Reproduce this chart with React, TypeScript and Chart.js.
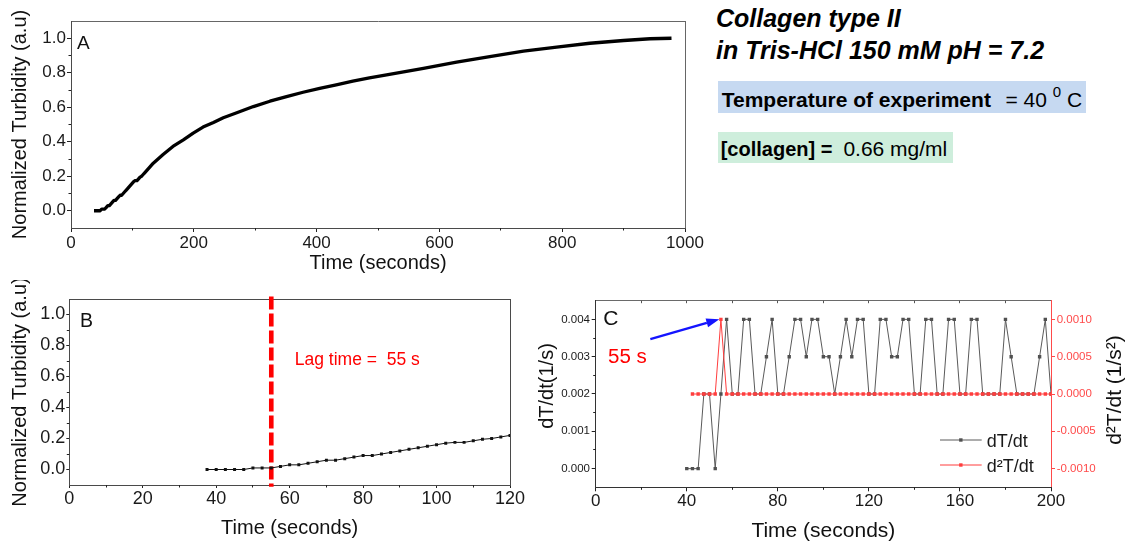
import React, { useEffect, useRef } from 'react';
import { Chart, registerables } from 'chart.js';

Chart.register(...registerables);

const FONT = "'Liberation Sans', Arial, Helvetica, sans-serif";

// ---------------- Panel A : full turbidity curve ----------------
const aTime = [37.5, 40, 42.5, 45, 47.5, 50, 52.5, 55, 57.5, 60, 62.5, 65, 67.5, 70, 72.5, 75, 77.5, 80, 82.5, 85, 87.5, 90, 92.5, 95, 97.5, 100, 102.5, 105, 107.5, 110, 112.5, 115, 117.5, 120, 134, 150, 166, 183, 199, 215, 232, 248, 270, 297, 324, 351, 378, 405, 432, 459, 486, 514, 544, 574, 628, 682, 737, 791, 845, 900, 943, 978];
const aTurbidity = [0, 0, 0, 0, 0, 0.01, 0.01, 0.01, 0.02, 0.03, 0.03, 0.04, 0.05, 0.06, 0.06, 0.07, 0.08, 0.09, 0.09, 0.10, 0.11, 0.12, 0.13, 0.14, 0.15, 0.16, 0.17, 0.175, 0.175, 0.185, 0.195, 0.20, 0.21, 0.22, 0.276, 0.326, 0.373, 0.411, 0.45, 0.485, 0.512, 0.539, 0.568, 0.604, 0.635, 0.662, 0.687, 0.71, 0.73, 0.751, 0.77, 0.788, 0.807, 0.826, 0.861, 0.894, 0.925, 0.948, 0.971, 0.987, 0.997, 1.0];
const aXTicks = [0, 200, 400, 600, 800, 1000];
const aXMinor = [100, 300, 500, 700, 900];
const turbTicks = [0, 0.2, 0.4, 0.6, 0.8, 1.0];
const turbMinor = [0.1, 0.3, 0.5, 0.7, 0.9];

// ---------------- Panel B : zoom on the lag phase ----------------
const bTime = [37.5, 40, 42.5, 45, 47.5, 50, 52.5, 55, 57.5, 60, 62.5, 65, 67.5, 70, 72.5, 75, 77.5, 80, 82.5, 85, 87.5, 90, 92.5, 95, 97.5, 100, 102.5, 105, 107.5, 110, 112.5, 115, 117.5, 120];
const bTurbidity = [0, 0, 0, 0, 0, 0.01, 0.01, 0.01, 0.02, 0.03, 0.03, 0.04, 0.05, 0.06, 0.06, 0.07, 0.08, 0.09, 0.09, 0.10, 0.11, 0.12, 0.13, 0.14, 0.15, 0.16, 0.17, 0.175, 0.175, 0.185, 0.195, 0.20, 0.21, 0.22];
const bXTicks = [0, 20, 40, 60, 80, 100, 120];
const bXMinor = [10, 30, 50, 70, 90, 110];
const lagTime = 55;

// ---------------- Panel C : derivatives ----------------
const cTime = [40, 42.5, 45, 47.5, 50, 52.5, 55, 57.5, 60, 62.5, 65, 67.5, 70, 72.5, 75, 77.5, 80, 82.5, 85, 87.5, 90, 92.5, 95, 97.5, 100, 102.5, 105, 107.5, 110, 112.5, 115, 117.5, 120, 122.5, 125, 127.5, 130, 132.5, 135, 137.5, 140, 142.5, 145, 147.5, 150, 152.5, 155, 157.5, 160, 162.5, 165, 167.5, 170, 172.5, 175, 177.5, 180, 182.5, 185, 187.5, 190, 192.5, 195, 197.5, 200];
const dTdt = [0, 0, 0, 0.002, 0.002, 0, 0.002, 0.004, 0.002, 0.002,
  0.004, 0.004, 0.002, 0.002, 0.003, 0.004, 0.002, 0.002, 0.003, 0.004,
  0.004, 0.003, 0.004, 0.004, 0.003, 0.003, 0.002, 0.003, 0.004, 0.003,
  0.004, 0.004, 0.002, 0.002, 0.004, 0.004, 0.003, 0.003, 0.004, 0.004,
  0.002, 0.002, 0.004, 0.004, 0.002, 0.002, 0.004, 0.004, 0.002, 0.002,
  0.004, 0.004, 0.002, 0.002, 0.002, 0.002, 0.004, 0.003, 0.002, 0.002,
  0.002, 0.002, 0.003, 0.004, 0.002];
const cTime2 = [42.5, 45, 47.5, 50, 52.5, 55, 57.5, 60, 62.5, 65, 67.5, 70, 72.5, 75, 77.5, 80, 82.5, 85, 87.5, 90, 92.5, 95, 97.5, 100, 102.5, 105, 107.5, 110, 112.5, 115, 117.5, 120, 122.5, 125, 127.5, 130, 132.5, 135, 137.5, 140, 142.5, 145, 147.5, 150, 152.5, 155, 157.5, 160, 162.5, 165, 167.5, 170, 172.5, 175, 177.5, 180, 182.5, 185, 187.5, 190, 192.5, 195, 197.5, 200];
const d2Tdt = [0, 0, 0, 0, 0, 0.001, 0, 0, 0, 0,
  0, 0, 0, 0, 0, 0, 0, 0, 0, 0,
  0, 0, 0, 0, 0, 0, 0, 0, 0, 0,
  0, 0, 0, 0, 0, 0, 0, 0, 0, 0,
  0, 0, 0, 0, 0, 0, 0, 0, 0, 0,
  0, 0, 0, 0, 0, 0, 0, 0, 0, 0,
  0, 0, 0, 0];
const cXTicks = [0, 40, 80, 120, 160, 200];
const cXMinor = [20, 60, 100, 140, 180];
const cYTicks = [0, 0.001, 0.002, 0.003, 0.004];
const cYMinor = [0.0005, 0.0015, 0.0025, 0.0035];
const cY2Ticks = [-0.001, -0.0005, 0, 0.0005, 0.001];
const seriesLabels = ['dT/dt', 'd\u00b2T/dt'];

// ---------------- styling ----------------
const GREY = '#505050';
const RED = '#ff3d3d';
const RED_AXIS = '#ff4a4a';
const FRAME = '#4a4a4a';
const TICKC = '#222';

const zip = (xs: number[], ys: number[]) => xs.map((x, i) => ({ x, y: ys[i] }));
const al = (p: number) => Math.round(p - 0.5) + 0.5;

function axis(o: any) {
  return {
    type: 'linear',
    position: o.position,
    min: o.min,
    max: o.max,
    afterBuildTicks: (s: any) => { s.ticks = o.ticks.map((v: number) => ({ value: v })); },
    afterFit: (s: any) => { if (o.horizontal) s.height = o.size; else s.width = o.size; },
    grid: { display: true, drawOnChartArea: false, drawTicks: true, tickLength: o.tickLen, color: o.tickColor || TICKC, lineWidth: 1 },
    border: { display: false },
    ticks: {
      autoSkip: false, maxRotation: 0, minRotation: 0, padding: o.pad,
      color: o.color || '#1a1a1a',
      font: { family: FONT, size: o.fontSize },
      callback: (v: any) => Number(v).toFixed(o.decimals),
    },
    title: o.title
      ? { display: true, text: o.title.text, color: '#111', font: { family: FONT, size: o.title.size }, padding: { top: o.title.padTop || 0, bottom: o.title.padBottom || 0 } }
      : { display: false },
  };
}

function seg(ctx: any, x1: number, y1: number, x2: number, y2: number, color: string) {
  ctx.strokeStyle = color; ctx.lineWidth = 1; ctx.lineCap = 'square';
  ctx.beginPath(); ctx.moveTo(x1, y1); ctx.lineTo(x2, y2); ctx.stroke();
}
function frame(ctx: any, ca: any, c: { t: string; r: string; b: string; l: string }) {
  const l = al(ca.left), r = al(ca.right), t = al(ca.top), b = al(ca.bottom);
  seg(ctx, l, t, r, t, c.t); seg(ctx, r, t, r, b, c.r); seg(ctx, l, b, r, b, c.b); seg(ctx, l, t, l, b, c.l);
}
function minor(ctx: any, scale: any, values: number[], side: string, ca: any, len: number, color: string) {
  ctx.strokeStyle = color; ctx.lineWidth = 1; ctx.lineCap = 'butt';
  ctx.beginPath();
  for (const v of values) {
    const p = al(scale.getPixelForValue(v));
    if (side === 'bottom') { ctx.moveTo(p, ca.bottom); ctx.lineTo(p, ca.bottom + len); }
    else if (side === 'top') { ctx.moveTo(p, ca.top); ctx.lineTo(p, ca.top + len); }
    else if (side === 'left') { ctx.moveTo(ca.left, p); ctx.lineTo(ca.left - len, p); }
    else { ctx.moveTo(ca.right, p); ctx.lineTo(ca.right + len, p); }
  }
  ctx.stroke();
}
function txt(ctx: any, s: string, x: number, y: number, size: number, color: string, align = 'left') {
  ctx.font = `${size}px ${FONT}`; ctx.fillStyle = color; ctx.textAlign = align; ctx.textBaseline = 'alphabetic';
  ctx.fillText(s, x, y);
}
function vtxt(ctx: any, s: string, baselineX: number, centerY: number, size: number, color: string) {
  ctx.save();
  ctx.translate(baselineX, centerY);
  ctx.rotate(-Math.PI / 2);
  txt(ctx, s, 0, 0, size, color, 'center');
  ctx.restore();
}
function arrow(ctx: any, x1: number, y1: number, x2: number, y2: number, color: string, w: number, hl: number, hw: number) {
  const a = Math.atan2(y2 - y1, x2 - x1);
  const bx = x2 - hl * Math.cos(a), by = y2 - hl * Math.sin(a);
  ctx.strokeStyle = color; ctx.lineWidth = w; ctx.lineCap = 'butt';
  ctx.beginPath(); ctx.moveTo(x1, y1); ctx.lineTo(bx, by); ctx.stroke();
  ctx.fillStyle = color; ctx.beginPath(); ctx.moveTo(x2, y2);
  ctx.lineTo(bx + hw * Math.sin(a), by - hw * Math.cos(a));
  ctx.lineTo(bx - hw * Math.sin(a), by + hw * Math.cos(a));
  ctx.closePath(); ctx.fill();
}

const baseOptions = (padding: any) => ({
  responsive: false,
  animation: false,
  devicePixelRatio: 1,
  layout: { padding },
  plugins: { legend: { display: false }, tooltip: { enabled: false } },
  elements: { line: { tension: 0 } },
});

function configA(): any {
  return {
    type: 'line',
    data: { datasets: [{ label: 'Normalized turbidity', data: zip(aTime, aTurbidity), borderColor: '#000', borderWidth: 3.3, pointRadius: 0, borderJoinStyle: 'round' }] },
    options: {
      ...baseOptions({ left: 0, top: 21, right: 25, bottom: 0 }),
      scales: {
        x: axis({ horizontal: true, position: 'bottom', min: 0, max: 1000, ticks: aXTicks, size: 52, fontSize: 17, tickLen: 4, pad: 0.8, decimals: 0, title: { text: 'Time (seconds)', size: 20, padBottom: 4.9 } }),
        y: axis({ horizontal: false, position: 'left', min: -0.1, max: 1.1, ticks: turbTicks, size: 71, fontSize: 17, tickLen: 4, pad: 1, decimals: 1, title: { text: 'Normalized Turbidity (a.u)', size: 20, padTop: 8.8 } }),
      },
    },
    plugins: [{
      id: 'decorA',
      beforeDatasetsDraw(chart: any) {
        const { ctx, chartArea: ca, scales } = chart;
        ctx.save();
        frame(ctx, ca, { t: '#666', r: '#666', b: FRAME, l: FRAME });
        minor(ctx, scales.x, aXMinor, 'bottom', ca, 2.5, TICKC);
        minor(ctx, scales.y, turbMinor, 'left', ca, 2.5, TICKC);
        ctx.restore();
      },
      afterDatasetsDraw(chart: any) {
        const { ctx, chartArea: ca } = chart;
        ctx.save();
        txt(ctx, 'A', ca.left + 6, ca.top + 27.8, 19, '#111');
        ctx.restore();
      },
    }],
  };
}

function configB(): any {
  return {
    type: 'line',
    data: { datasets: [{ label: 'Normalized turbidity', data: zip(bTime, bTurbidity), borderColor: '#111', backgroundColor: '#111', borderWidth: 1, pointStyle: 'rect', pointRadius: 2.1, pointBorderWidth: 0 }] },
    options: {
      ...baseOptions({ left: 0, top: 19, right: 30, bottom: 0 }),
      scales: {
        x: axis({ horizontal: true, position: 'bottom', min: 0, max: 120, ticks: bXTicks, size: 60, fontSize: 18, tickLen: 3, pad: 0, decimals: 0, title: { text: 'Time (seconds)', size: 20, padBottom: 4.9 } }),
        y: axis({ horizontal: false, position: 'left', min: -0.1, max: 1.1, ticks: turbTicks, size: 69.3, fontSize: 18, tickLen: 3, pad: 1, decimals: 1, title: { text: 'Normalized Turbidity (a.u)', size: 20, padTop: 8.4 } }),
      },
    },
    plugins: [{
      id: 'decorB',
      beforeDatasetsDraw(chart: any) {
        const { ctx, chartArea: ca, scales } = chart;
        ctx.save();
        frame(ctx, ca, { t: FRAME, r: FRAME, b: FRAME, l: FRAME });
        minor(ctx, scales.x, bXMinor, 'bottom', ca, 2.5, TICKC);
        minor(ctx, scales.y, turbMinor, 'left', ca, 2.5, TICKC);
        const lx = scales.x.getPixelForValue(lagTime);
        ctx.strokeStyle = '#ff0000'; ctx.lineWidth = 4.6; ctx.lineCap = 'butt';
        ctx.setLineDash([13, 4]);
        ctx.beginPath(); ctx.moveTo(lx, ca.top - 2.5); ctx.lineTo(lx, ca.bottom + 1.8); ctx.stroke();
        ctx.setLineDash([]);
        ctx.restore();
      },
      afterDatasetsDraw(chart: any) {
        const { ctx, chartArea: ca, scales } = chart;
        ctx.save();
        txt(ctx, 'B', ca.left + 10.7, ca.top + 27.7, 19.5, '#111');
        txt(ctx, `Lag time =  ${lagTime} s`, scales.x.getPixelForValue(61.4), scales.y.getPixelForValue(0.677), 17.5, '#ff0000');
        ctx.restore();
      },
    }],
  };
}

function configC(): any {
  return {
    type: 'line',
    data: {
      datasets: [
        { label: seriesLabels[0], data: zip(cTime, dTdt), yAxisID: 'y', borderColor: '#5a5a5a', backgroundColor: GREY, borderWidth: 1, pointStyle: 'rect', pointRadius: 2.4, pointBorderWidth: 0, order: 1 },
        { label: seriesLabels[1], data: zip(cTime2, d2Tdt), yAxisID: 'y1', borderColor: RED, backgroundColor: RED, borderWidth: 1, pointStyle: 'rect', pointRadius: 2.4, pointBorderWidth: 0, order: 0 },
      ],
    },
    options: {
      ...baseOptions({ left: 0, top: 20.7, right: 0, bottom: 0 }),
      scales: {
        x: axis({ horizontal: true, position: 'bottom', min: 0, max: 200, ticks: cXTicks, size: 57.7, fontSize: 17, tickLen: 4, pad: 0, decimals: 0, title: { text: 'Time (seconds)', size: 21, padBottom: 1.4 } }),
        y: axis({ horizontal: false, position: 'left', min: -0.0005, max: 0.0045, ticks: cYTicks, size: 75.7, fontSize: 11.5, tickLen: 4, pad: 1.7, decimals: 3 }),
        y1: axis({ horizontal: false, position: 'right', min: -0.00125, max: 0.00125, ticks: cY2Ticks, size: 76, fontSize: 11.5, tickLen: 4, pad: 1.7, decimals: 4, color: RED_AXIS, tickColor: RED_AXIS }),
      },
    },
    plugins: [{
      id: 'decorC',
      beforeDatasetsDraw(chart: any) {
        const { ctx, chartArea: ca, scales } = chart;
        ctx.save();
        frame(ctx, ca, { t: '#6a6a6a', r: RED_AXIS, b: '#333', l: '#333' });
        minor(ctx, scales.x, cXMinor, 'bottom', ca, 2.5, TICKC);
        minor(ctx, scales.x, [...cXTicks, ...cXMinor].filter((v) => v > 0 && v < 200), 'top', ca, 2.5, '#555');
        minor(ctx, scales.y, cYMinor, 'left', ca, 2.5, TICKC);
        ctx.restore();
      },
      afterDatasetsDraw(chart: any) {
        const { ctx, chartArea: ca, scales } = chart;
        const { x, y } = scales;
        ctx.save();
        txt(ctx, 'C', ca.left + 7.6, ca.top + 24.3, 21, '#111');
        arrow(ctx, x.getPixelForValue(24), y.getPixelForValue(0.00347), x.getPixelForValue(54.3), y.getPixelForValue(0.004), '#1414ff', 2.4, 13, 4.5);
        txt(ctx, `${lagTime} s`, x.getPixelForValue(5.4), y.getPixelForValue(0.00284), 20.5, '#ff0000');
        // legend
        const xa = ca.right - 111, xb = ca.right - 69.3, xm = (xa + xb) / 2;
        const rows = [{ yy: ca.bottom - 47.3, line: '#5a5a5a', pt: GREY, label: seriesLabels[0] }, { yy: ca.bottom - 22.3, line: RED, pt: RED, label: seriesLabels[1] }];
        for (const r of rows) {
          ctx.strokeStyle = r.line; ctx.lineWidth = 1;
          ctx.beginPath(); ctx.moveTo(xa, r.yy); ctx.lineTo(xb, r.yy); ctx.stroke();
          ctx.fillStyle = r.pt; ctx.fillRect(xm - 1.7, r.yy - 1.7, 3.4, 3.4);
          txt(ctx, r.label, ca.right - 64.3, r.yy + 6.8, 18, '#1a1a1a');
        }
        // axis titles, both reading bottom to top
        vtxt(ctx, 'dT/dt(1/s)', ca.left - 43, (ca.top + ca.bottom) / 2 - 8, 20, '#111');
        vtxt(ctx, 'd\u00b2T/dt (1/s\u00b2)', ca.right + 69.5, (ca.top + ca.bottom) / 2 - 4, 21, '#111');
        ctx.restore();
      },
    }],
  };
}

function ChartCanvas({ build, left, top, width, height }: any) {
  const ref = useRef<HTMLCanvasElement | null>(null);
  useEffect(() => {
    if (!ref.current) return;
    const chart = new Chart(ref.current, build());
    return () => chart.destroy();
  }, []);
  return <canvas ref={ref} width={width} height={height} style={{ position: 'absolute', left, top, width, height }} />;
}

export default function App() {
  return (
    <div style={{ position: 'absolute', left: 0, top: 0, width: 1127, height: 545, overflow: 'hidden', background: '#fff', fontFamily: FONT, color: '#000' }}>
      <ChartCanvas build={configA} left={0} top={0} width={710} height={280} />
      <ChartCanvas build={configB} left={0} top={280} width={540} height={265} />
      <ChartCanvas build={configC} left={520} top={280} width={607} height={265} />

      <div style={{ position: 'absolute', left: 716, top: 5.5, font: `italic bold 25px/25px ${FONT}`, whiteSpace: 'nowrap' }}>Collagen type II</div>
      <div style={{ position: 'absolute', left: 716, top: 38.1, font: `italic bold 25px/25px ${FONT}`, whiteSpace: 'nowrap' }}>in Tris-HCl 150 mM pH = 7.2</div>

      <div style={{ position: 'absolute', left: 717.7, top: 81, width: 368, height: 32.3, background: '#c6d9f1' }} />
      <div style={{ position: 'absolute', left: 721.7, top: 88.9, font: `21px/21px ${FONT}`, whiteSpace: 'nowrap' }}>
        <b>Temperature of experiment</b>
        <span style={{ marginLeft: 14.6 }}>{'= 40 '}</span>
        <span style={{ fontSize: 15, position: 'relative', top: -10 }}>0</span>
        {' C'}
      </div>

      <div style={{ position: 'absolute', left: 717.7, top: 132.3, width: 235, height: 30.3, background: '#ceeedc' }} />
      <div style={{ position: 'absolute', left: 720.7, top: 138.2, font: `21px/21px ${FONT}`, whiteSpace: 'nowrap' }}>
        <b style={{ fontSize: 20 }}>[collagen] =</b>
        <span style={{ marginLeft: 11 }}>0.66 mg/ml</span>
      </div>
    </div>
  );
}
